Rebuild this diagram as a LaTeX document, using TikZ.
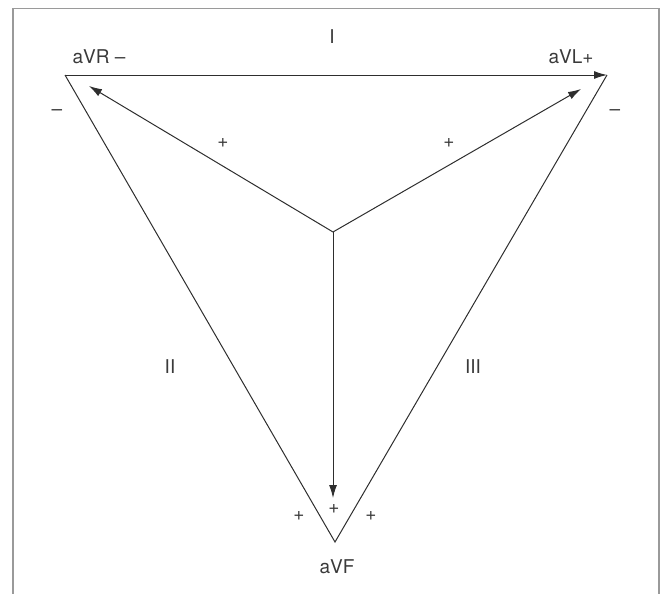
\documentclass[tikz,border=0pt]{standalone}
\usepackage{fontspec}
\setmainfont{TeX Gyre Heros}
\usetikzlibrary{arrows.meta}
\definecolor{linec}{HTML}{2E2E2E}
\definecolor{framec}{HTML}{9A9A9A}
\definecolor{textc}{HTML}{3A3A3A}
\begin{document}
\begin{tikzpicture}[x=1pt,y=-1pt,
  edge/.style={draw=linec,line width=1pt},
  arr/.style={edge,-{Latex[length=13pt,width=8pt]}},
  lbl/.style={text=textc,font=\fontsize{19}{21}\selectfont,inner sep=0pt},
  frame/.style={draw=framec,line width=1.6pt}]
\useasboundingbox (0,0) rectangle (661,594);
\coordinate (fbl) at (13,594);
\coordinate (ftl) at (13,8.5);
\coordinate (ftr) at (659,8.5);
\coordinate (fbr) at (659,594);
\draw[frame] (fbl) -- (ftl) -- (ftr) -- (fbr);
\coordinate (V1) at (65,75);
\coordinate (V2) at (607,75);
\coordinate (V3) at (335,542);
\coordinate (C) at (333,232);
\coordinate (A1) at (89,86);
\coordinate (A2) at (581,89);
\coordinate (A3) at (333,498);
\draw[edge] (V2) -- (V3) -- (V1);
\draw[arr] (V1) -- (V2);
\draw[arr] (C) -- (A1);
\draw[arr] (C) -- (A2);
\draw[arr] (C) -- (A3);
\node[lbl] (lI) at (332,37) {I};
\node[lbl] (lavr) at (99,57) {aVR –};
\node[lbl] (lavl) at (571,57) {aVL+};
\node[lbl] (lm1) at (57,113) {–};
\node[lbl] (lm2) at (615,113) {–};
\node[lbl] (lp1) at (223,143) {+};
\node[lbl] (lp2) at (449,143) {+};
\node[lbl] (lII) at (170,367) {II};
\node[lbl] (lIII) at (473,367) {III};
\node[lbl] (lp3) at (299,516) {+};
\node[lbl] (lp4) at (334,509) {+};
\node[lbl] (lp5) at (371,516) {+};
\node[lbl] (lavf) at (337,567) {aVF};
\end{tikzpicture}
\end{document}
